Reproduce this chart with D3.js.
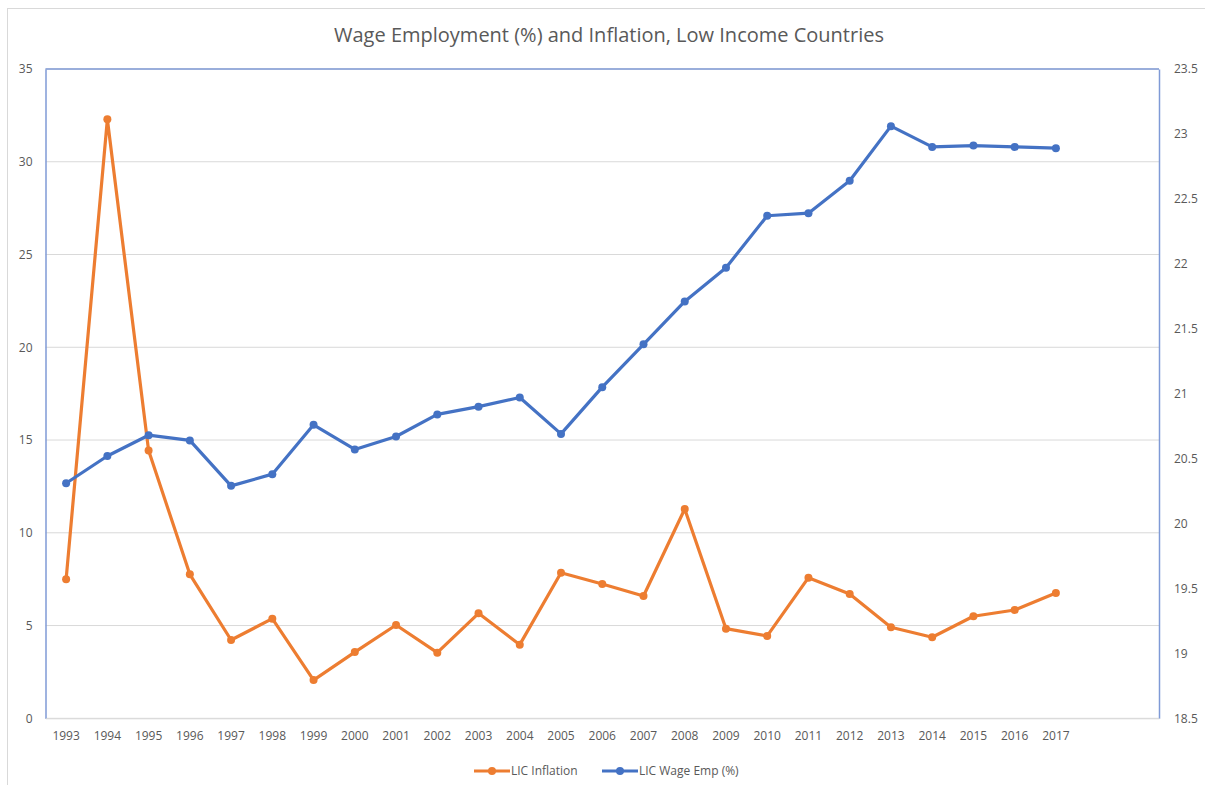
<!DOCTYPE html>
<html>
<head>
<meta charset="utf-8">
<script src="https://cdn.jsdelivr.net/npm/d3@7"></script>
<style>
  body { margin: 0; background: #fff; }
  svg text { font-family: "Open Sans", "Liberation Sans", sans-serif; fill: #595959; }
</style>
</head>
<body>
<div id="vis-container"></div>
<script>
// data
const years = ["1993","1994","1995","1996","1997","1998","1999","2000","2001","2002","2003","2004","2005",
  "2006","2007","2008","2009","2010","2011","2012","2013","2014","2015","2016","2017"];
// the category axis keeps two more empty slots at the right end
const emptySlots = ["2018", "2019"];
const inflation = [7.49, 32.29, 14.43, 7.76, 4.22, 5.37, 2.06, 3.57, 5.03, 3.54, 5.66, 3.97, 7.85,
  7.24, 6.59, 11.28, 4.83, 4.44, 7.58, 6.70, 4.91, 4.37, 5.50, 5.84, 6.75];
const wageEmp = [20.31, 20.52, 20.68, 20.64, 20.29, 20.38, 20.76, 20.57, 20.67, 20.84, 20.90, 20.97, 20.69,
  21.05, 21.38, 21.71, 21.97, 22.37, 22.39, 22.64, 23.06, 22.90, 22.91, 22.90, 22.89];
const leftTicks = [0, 5, 10, 15, 20, 25, 30, 35];
const rightTicks = [18.5, 19, 19.5, 20, 20.5, 21, 21.5, 22, 22.5, 23, 23.5];

const w = 1205, h = 785;
const plotLeft = 45.5, plotRight = 1159, plotTop = 69, plotBottom = 718.3;
const orange = "#ED7D31", blue = "#4472C4";

const svg = d3.select("#vis-container").append("svg")
  .attr("width", w).attr("height", h);

// outer chart border
svg.append("rect")
  .attr("x", 7.5).attr("y", 8.5)
  .attr("width", 1210).attr("height", 790)
  .attr("fill", "none").attr("stroke", "#d9d9d9");

// title
svg.append("text")
  .attr("x", 609).attr("y", 42)
  .attr("text-anchor", "middle")
  .style("font-size", "20px")
  .text("Wage Employment (%) and Inflation, Low Income Countries");

// scales
const xScale = d3.scaleBand()
  .domain(years.concat(emptySlots))
  .range([plotLeft, plotRight]);
const yLeft = d3.scaleLinear().domain([0, 35]).range([plotBottom, plotTop]);
const yRight = d3.scaleLinear().domain([18.5, 23.5]).range([plotBottom, plotTop]);
const xc = d => xScale(d) + xScale.bandwidth() / 2;

// gridlines
svg.append("g")
  .selectAll("line")
  .data(leftTicks)
  .enter().append("line")
  .attr("x1", plotLeft).attr("x2", plotRight)
  .attr("y1", d => yLeft(d)).attr("y2", d => yLeft(d))
  .attr("stroke", "#d9d9d9").attr("stroke-width", 1);

// left axis
const gLeft = svg.append("g")
  .attr("transform", "translate(" + plotLeft + ",0)")
  .call(d3.axisLeft(yLeft).tickValues(leftTicks).tickSize(0).tickPadding(13));
gLeft.select(".domain").attr("stroke", "#7f9ad6").attr("stroke-width", 1.5);
gLeft.selectAll("text").style("font-size", "12px");

// right axis
const gRight = svg.append("g")
  .attr("transform", "translate(" + plotRight + ",0)")
  .call(d3.axisRight(yRight).tickValues(rightTicks).tickFormat(d => String(d))
    .tickSize(0).tickPadding(15));
gRight.select(".domain").attr("stroke", "#7f9ad6").attr("stroke-width", 1.5);
gRight.selectAll("text").style("font-size", "12px");

// top border line of plot
svg.append("line")
  .attr("x1", plotLeft).attr("x2", plotRight)
  .attr("y1", plotTop).attr("y2", plotTop)
  .attr("stroke", "#7f9ad6").attr("stroke-width", 1.5);

// x axis
const gX = svg.append("g")
  .attr("transform", "translate(0," + plotBottom + ")")
  .call(d3.axisBottom(xScale).tickValues(years).tickSize(0).tickPadding(13));
gX.select(".domain").attr("stroke", "#d9d9d9");
gX.selectAll("text").style("font-size", "12px");

// lines
const inflLine = d3.line()
  .x((d, i) => xc(years[i]))
  .y(d => yLeft(d));
const wageLine = d3.line()
  .x((d, i) => xc(years[i]))
  .y(d => yRight(d));

svg.append("path")
  .datum(inflation)
  .attr("d", inflLine)
  .attr("fill", "none").attr("stroke", orange)
  .attr("stroke-width", 3.2).attr("stroke-linejoin", "round");
svg.selectAll(".dot-infl")
  .data(inflation)
  .enter().append("circle")
  .attr("class", "dot-infl")
  .attr("cx", (d, i) => xc(years[i]))
  .attr("cy", d => yLeft(d))
  .attr("r", 4).attr("fill", orange);

svg.append("path")
  .datum(wageEmp)
  .attr("d", wageLine)
  .attr("fill", "none").attr("stroke", blue)
  .attr("stroke-width", 3.2).attr("stroke-linejoin", "round");
svg.selectAll(".dot-wage")
  .data(wageEmp)
  .enter().append("circle")
  .attr("class", "dot-wage")
  .attr("cx", (d, i) => xc(years[i]))
  .attr("cy", d => yRight(d))
  .attr("r", 4).attr("fill", blue);

// legend
const legendItems = [
  { name: "LIC Inflation", color: orange, x: 474 },
  { name: "LIC Wage Emp (%)", color: blue, x: 602 }
];
const legend = svg.selectAll(".legend")
  .data(legendItems)
  .enter().append("g")
  .attr("class", "legend")
  .attr("transform", d => "translate(" + d.x + ",771)");
legend.append("line")
  .attr("x1", 0).attr("x2", 36)
  .attr("stroke", d => d.color).attr("stroke-width", 3);
legend.append("circle")
  .attr("cx", 18).attr("r", 4)
  .attr("fill", d => d.color);
legend.append("text")
  .attr("x", 37).attr("dy", ".35em")
  .style("font-size", "12px")
  .text(d => d.name);
</script>
</body>
</html>
